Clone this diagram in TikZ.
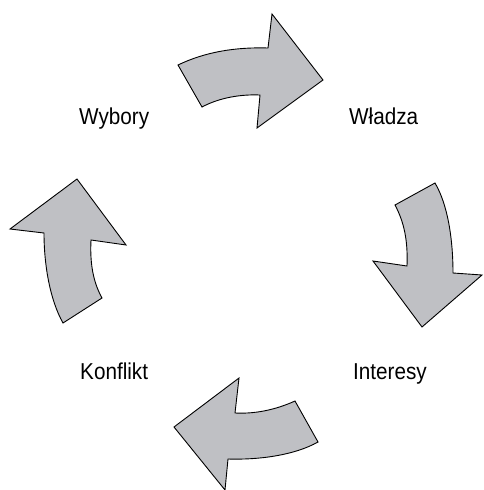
\documentclass[tikz,border=0pt]{standalone}
\usepackage{fontspec}
\setmainfont[FakeStretch=0.9]{Liberation Sans}
\usetikzlibrary{shapes}
\definecolor{arrowgray}{RGB}{191,192,196}

\begin{document}
\begin{tikzpicture}[x=1pt,y=-1pt,
    bigarrow/.style={draw=black,line width=0.9pt,line join=miter,fill=arrowgray},
    wordlabel/.style={anchor=base west,inner sep=0pt,font=\fontsize{23}{27}\selectfont}]
    \useasboundingbox (0,0) rectangle (483,490);
    % Labels
    \node[wordlabel] (wybory) at (79,124) {Wybory};
    \node[wordlabel] (wladza) at (349,124) {Władza};
    \node[wordlabel] (konflikt) at (80,379) {Konflikt};
    \node[wordlabel] (interesy) at (353,379) {Interesy};
    % Top arrow: Wybory -> Władza
    \draw[bigarrow] (178,65) .. controls (205,52) and (235,47) .. (268,48)
        -- (272,14) -- (323,80) -- (257,128) -- (260,95)
        .. controls (235,94) and (215,100) .. (202,107) -- cycle;
    % Right arrow: Władza -> Interesy
    \draw[bigarrow] (435,183) .. controls (448,205) and (453,240) .. (453,273)
        -- (482,275) -- (422,327) -- (373,261) -- (407,266)
        .. controls (408,240) and (404,222) .. (395,205) -- cycle;
    % Bottom arrow: Interesy -> Konflikt
    \draw[bigarrow] (318,442) .. controls (295,455) and (260,460) .. (228,459)
        -- (225,490) -- (174,427) -- (239,378) -- (235,413)
        .. controls (255,414) and (275,410) .. (295,401) -- cycle;
    % Left arrow: Konflikt -> Wybory
    \draw[bigarrow] (102,298) .. controls (92,280) and (90,260) .. (91,240)
        -- (126,245) -- (77,179) -- (10,229) -- (44,233)
        .. controls (44,265) and (50,300) .. (63,323) -- cycle;
\end{tikzpicture}
\end{document}
